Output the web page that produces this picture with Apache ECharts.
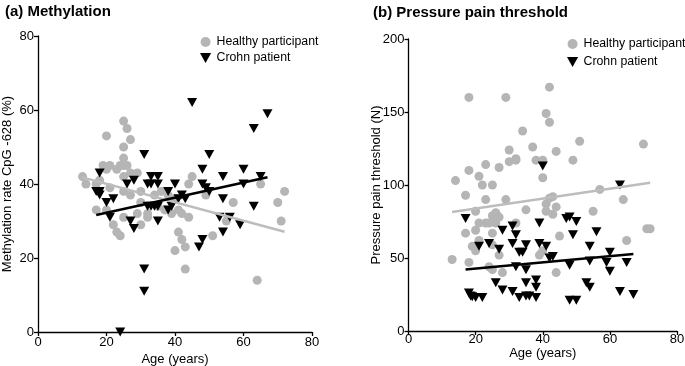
<!DOCTYPE html>
<html>
<head>
<meta charset="utf-8">
<script src="https://cdn.jsdelivr.net/npm/echarts@6/dist/echarts.min.js"></script>
<style>html,body{margin:0;padding:0;background:#fff;}#c{width:685px;height:366px;}</style>
</head>
<body>
<div id="c"></div>
<script>
// ---- Panel (a): Methylation ----
const healthyAgeA = [13,14,17,17,18,19,20,20,21,20,21,22,23,23,24,24,25,25,25,25,25,25,25,26,26,27,27,27,29,29,30,30,30,32,32,34,35,36,37,38,39,40,40,41,41,42,42,43,43,44,44,45,49,51,55,57,64,65,70,71,72];
const healthyMethA = [42,40,40,33,41,45,53,44,45,33,39,29,44,27,26,45,57,50,47,45,42,38,31,55,45,52,43,37,43,32,29,38,35,32,31,37,34,38,33,37,32,22,36,27,33,32,25,23,17,31,40,42,37,26,30,35,14,40,35,30,38];
const crohnAgeA = [18,17,18,18,20,21,22,26,27,28,28,24,31,31,31,32,33,33,35,35,33,34,35,32,35,38,38,39,40,41,42,43,45,47,48,48,48,49,50,50,53,54,54,54,56,59,60,60,63,63,65,67];
const crohnMethA = [43,38,37,38,35,31,36,40,30,41,28,0,48,17,11,40,42,40,42,40,34,34,34,34,30,38,33,34,40,36,37,36,62,23,25,44,40,39,48,38,31,42,36,27,31,29,40,44,55,34,42,59];
const healthyFitA = [[13,41.8],[72,27.1]];
const crohnFitA = [[17,31.6],[67,41.8]];

// ---- Panel (b): Pressure pain threshold ----
const healthyAgeB = [13,14,17,17,18,18,18,19,20,20,20,21,21,21,22,23,23,23,24,24,25,25,25,25,25,26,26,27,27,27,28,29,29,30,30,32,32,32,34,35,37,38,40,40,39,40,41,41,41,42,42,42,43,43,44,44,44,45,49,51,55,57,64,65,70,71,72];
const healthyPptB = [49,103,93,67,160,110,47,58,82,69,55,106,74,62,100,114,90,74,74,44,100,79,67,59,42,81,74,78,112,52,40,160,90,124,116,118,117,74,137,83,126,117,117,105,52,55,149,87,82,167,143,91,92,80,123,85,40,65,117,130,82,97,90,62,128,70,70];
const crohnAgeB = [17,18,18.5,19,20,22,21,24,26,27,28,28,31,31,31,32,32,33,34,33,35,35,35,35,36,38,38,38,39,39,40,41,42,43,47,48,48,48,49,50,50,53,54,54,54,56,59,60,60,63,63,65,67];
const crohnPptB = [77,26,24,23.5,23,23,58,60,33,56,69,28,72,60,27,66,44,54,54,23,59,42,33,24,24,35,30,23,74,60,113,58,50,51,77,78,45,21,66,75,21,33,58,48,30,68,47,54,41,100,27,47,25];
const healthyFitB = [[13,81.5],[72,101.5]];
const crohnFitB = [[17,42.2],[67,52.7]];

const xTicks = [0,20,40,60,80];
const yTicksA = [0,20,40,60,80];
const yTicksB = [0,50,100,150,200];

const FONT = '"Liberation Sans", Arial, sans-serif';
const GREY = '#b5b5b5';
const TRI = 'path://M0,0L10,0L5,9Z';
const zip = (a,b) => a.map((v,i)=>[v,b[i]]);

const axisCommon = {
  axisLine:{show:true,lineStyle:{color:'#000',width:1.3}},
  axisTick:{show:true,length:4,lineStyle:{color:'#000',width:1.3}},
  axisLabel:{color:'#000',fontSize:13,fontFamily:FONT,margin:4},
  splitLine:{show:false},
  nameTextStyle:{color:'#000',fontSize:13,fontFamily:FONT},
  nameLocation:'middle',
  nameMoveOverlap:false
};
const legendText = {fontSize:12.3,fontFamily:FONT,color:'#000'};

const chart = echarts.init(document.getElementById('c'),null,{renderer:'canvas'});
chart.setOption({
  animation:false,
  backgroundColor:'#fff',
  title:[
    {text:'(a) Methylation',left:0,top:-1,textStyle:{fontSize:15,fontWeight:'bold',fontFamily:FONT,color:'#000'}},
    {text:'(b) Pressure pain threshold',left:368,top:0,textStyle:{fontSize:15,fontWeight:'bold',fontFamily:FONT,color:'#000'}}
  ],
  legend:[
    {left:195,top:31,orient:'vertical',itemWidth:12,itemHeight:10,itemGap:4,textStyle:legendText,
     data:[{name:'Healthy participant',icon:'circle'},{name:'Crohn patient',icon:TRI}]},
    {left:562,top:33,orient:'vertical',itemWidth:12,itemHeight:10,itemGap:6,textStyle:legendText,
     data:[{name:'Healthy participant',icon:'circle'},{name:'Crohn patient',icon:TRI}]}
  ],
  grid:[
    {left:38,top:36,width:274,height:296,outerBoundsMode:'none',containLabel:false},
    {left:408.5,top:39,width:268.5,height:292,outerBoundsMode:'none',containLabel:false}
  ],
  xAxis:[
    Object.assign({},axisCommon,{gridIndex:0,type:'value',min:xTicks[0],max:xTicks[xTicks.length-1],interval:20,name:'Age (years)',nameGap:21}),
    Object.assign({},axisCommon,{gridIndex:1,type:'value',min:xTicks[0],max:xTicks[xTicks.length-1],interval:20,name:'Age (years)',nameGap:16,
      axisLabel:{color:'#000',fontSize:13,fontFamily:FONT,margin:2}})
  ],
  yAxis:[
    Object.assign({},axisCommon,{gridIndex:0,type:'value',min:yTicksA[0],max:yTicksA[yTicksA.length-1],interval:20,name:'Methylation rate CpG -628 (%)',nameGap:24}),
    Object.assign({},axisCommon,{gridIndex:1,type:'value',min:yTicksB[0],max:yTicksB[yTicksB.length-1],interval:50,name:'Pressure pain threshold (N)',nameGap:26})
  ],
  series:[
    {name:'Healthy participant',type:'scatter',xAxisIndex:0,yAxisIndex:0,symbol:'circle',symbolSize:9,
     itemStyle:{color:GREY,opacity:1},data:zip(healthyAgeA,healthyMethA),z:2},
    {name:'Crohn patient',type:'scatter',xAxisIndex:0,yAxisIndex:0,symbol:TRI,symbolSize:[10,9],
     itemStyle:{color:'#000',opacity:1},data:zip(crohnAgeA,crohnMethA),z:3},
    {type:'line',xAxisIndex:0,yAxisIndex:0,data:healthyFitA,symbol:'none',lineStyle:{color:'#bdbdbd',width:2.5},z:4,silent:true},
    {type:'line',xAxisIndex:0,yAxisIndex:0,data:crohnFitA,symbol:'none',lineStyle:{color:'#000',width:2.5},z:5,silent:true},

    {name:'Healthy participant',type:'scatter',xAxisIndex:1,yAxisIndex:1,symbol:'circle',symbolSize:9,
     itemStyle:{color:GREY,opacity:1},data:zip(healthyAgeB,healthyPptB),z:2},
    {name:'Crohn patient',type:'scatter',xAxisIndex:1,yAxisIndex:1,symbol:TRI,symbolSize:[10,9],
     itemStyle:{color:'#000',opacity:1},data:zip(crohnAgeB,crohnPptB),z:3},
    {type:'line',xAxisIndex:1,yAxisIndex:1,data:healthyFitB,symbol:'none',lineStyle:{color:'#bdbdbd',width:2.5},z:4,silent:true},
    {type:'line',xAxisIndex:1,yAxisIndex:1,data:crohnFitB,symbol:'none',lineStyle:{color:'#000',width:2.5},z:5,silent:true}
  ]
});
</script>
</body>
</html>
